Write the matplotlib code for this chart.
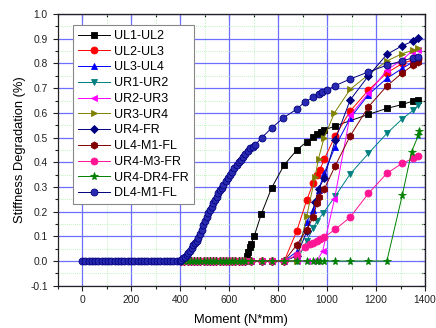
import matplotlib
matplotlib.use("Agg")
import matplotlib.pyplot as plt
from matplotlib.ticker import MultipleLocator

plt.rcParams['font.family'] = ['Liberation Sans', 'DejaVu Sans']

# ---------------- data ----------------
labels = ["UL1-UL2", "UL2-UL3", "UL3-UL4", "UR1-UR2", "UR2-UR3", "UR3-UR4",
          "UR4-FR", "UL4-M1-FL", "UR4-M3-FR", "UR4-DR4-FR", "DL4-M1-FL"]

# moments at which the curves still sit at zero stiffness degradation
zero_moment = [405, 418, 431, 444, 457, 470, 483, 496, 509, 522, 535, 548, 561,
               574, 587, 600, 613, 626, 639, 652, 665, 690, 733, 774, 825]

ul1_ul2_x = [672, 679, 686, 689, 703, 731, 774, 825, 876, 917, 944, 958, 974, 988,
             1033, 1169, 1244, 1307, 1352, 1373]
ul1_ul2_y = [0.02, 0.038, 0.058, 0.067, 0.102, 0.189, 0.297, 0.389, 0.449, 0.483,
             0.503, 0.513, 0.524, 0.530, 0.547, 0.594, 0.618, 0.634, 0.648, 0.654]

ul2_ul3_x = [876, 917, 944, 958, 971, 988, 1033, 1094, 1169, 1244, 1307, 1352, 1373]
ul2_ul3_y = [0.121, 0.247, 0.317, 0.35, 0.37, 0.412, 0.506, 0.607, 0.692, 0.762,
             0.800, 0.815, 0.820]

ul3_ul4_x = [876, 917, 944, 958, 965, 988, 1033, 1094, 1169, 1244, 1307, 1352, 1373]
ul3_ul4_y = [0.038, 0.159, 0.205, 0.247, 0.287, 0.355, 0.463, 0.578, 0.674, 0.740,
             0.780, 0.807, 0.814]

ur1_ur2_x = [876, 917, 944, 958, 985, 1033, 1094, 1169, 1244, 1305, 1352, 1373]
ur1_ur2_y = [0.0, 0.080, 0.135, 0.160, 0.195, 0.262, 0.352, 0.436, 0.517, 0.574,
             0.611, 0.632]

ur2_ur3_x = [876, 917, 944, 958, 982, 1030, 1094, 1169, 1244, 1305, 1345, 1373]
ur2_ur3_y = [0.0, 0.0, 0.0, 0.0, 0.040, 0.250, 0.590, 0.680, 0.773, 0.814, 0.848, 0.854]

ur3_ur4_x = [876, 917, 951, 965, 988, 1030, 1094, 1169, 1244, 1307, 1352, 1373]
ur3_ur4_y = [0.0, 0.182, 0.341, 0.415, 0.500, 0.600, 0.695, 0.755, 0.810, 0.840,
             0.854, 0.864]

ur4_fr_x = [876, 917, 951, 965, 988, 1033, 1094, 1169, 1244, 1307, 1352, 1373]
ur4_fr_y = [0.02, 0.12, 0.24, 0.29, 0.335, 0.490, 0.652, 0.750, 0.837, 0.872,
            0.891, 0.902]

ul4_m1_fl_x = [876, 917, 944, 958, 965, 988, 1033, 1094, 1169, 1244, 1307, 1352, 1373]
ul4_m1_fl_y = [0.065, 0.126, 0.180, 0.233, 0.260, 0.290, 0.385, 0.506, 0.625, 0.709,
               0.762, 0.794, 0.804]

ur4_m3_fr_x = [876, 910, 930, 944, 958, 971, 988, 1033, 1094, 1169, 1244, 1305, 1352, 1373]
ur4_m3_fr_y = [0.024, 0.058, 0.068, 0.074, 0.080, 0.088, 0.096, 0.128, 0.177, 0.274,
               0.355, 0.395, 0.416, 0.425]

ur4_dr4_fr_x = [876, 917, 944, 958, 971, 988, 1033, 1094, 1169, 1244, 1307, 1345,
                1373, 1377]
ur4_dr4_fr_y = [0.0, 0.0, 0.0, 0.0, 0.0, 0.0, 0.0, 0.0, 0.0, 0.0, 0.267, 0.443,
                0.510, 0.528]

dl4_m1_fl_x = [0, 13, 27, 40, 53, 67, 80, 93, 107, 120, 133, 147, 160, 173, 187, 200,
               213, 227, 240, 253, 267, 280, 293, 307, 320, 333, 347, 360, 373, 387,
               400, 405, 413, 420, 427, 434, 441, 447, 454, 461, 468, 475, 481, 488,
               495, 502, 509, 516, 522, 529, 536, 543, 549, 556, 563, 570, 577, 586,
               595, 604, 613, 622, 631, 640, 649, 658, 667, 676, 686, 696, 706, 733,
               774, 822, 876, 910, 944, 965, 978, 999, 1033, 1094, 1169, 1244, 1305,
               1352, 1373]
dl4_m1_fl_y = [0.0, 0.0, 0.0, 0.0, 0.0, 0.0, 0.0, 0.0, 0.0, 0.0, 0.0, 0.0, 0.0, 0.0,
               0.0, 0.0, 0.0, 0.0, 0.0, 0.0, 0.0, 0.0, 0.0, 0.0, 0.0, 0.0, 0.0, 0.0,
               0.0, 0.0, 0.0, 0.005, 0.011, 0.018, 0.024, 0.031, 0.042, 0.053, 0.065,
               0.074, 0.082, 0.092, 0.108, 0.127, 0.146, 0.162, 0.178, 0.193, 0.206,
               0.220, 0.233, 0.247, 0.261, 0.274, 0.286, 0.297, 0.308, 0.322, 0.335,
               0.348, 0.362, 0.376, 0.389, 0.400, 0.411, 0.422, 0.434, 0.445, 0.456,
               0.463, 0.470, 0.499, 0.539, 0.580, 0.615, 0.645, 0.663, 0.676, 0.683,
               0.692, 0.710, 0.737, 0.766, 0.793, 0.810, 0.823, 0.827]

series_x = [ul1_ul2_x, ul2_ul3_x, ul3_ul4_x, ur1_ur2_x, ur2_ur3_x, ur3_ur4_x,
            ur4_fr_x, ul4_m1_fl_x, ur4_m3_fr_x, ur4_dr4_fr_x, dl4_m1_fl_x]
series_y = [ul1_ul2_y, ul2_ul3_y, ul3_ul4_y, ur1_ur2_y, ur2_ur3_y, ur3_ur4_y,
            ur4_fr_y, ul4_m1_fl_y, ur4_m3_fr_y, ur4_dr4_fr_y, dl4_m1_fl_y]

colors = ["#000000", "#FF0000", "#0000FF", "#008080", "#FF00FF", "#808000",
          "#000080", "#800000", "#FF1493", "#008000", "#000080"]
facecolors = ["#000000", "#FF0000", "#0000FF", "#008080", "#FF00FF", "#808000",
              "#000080", "#800000", "#FF1493", "#008000", "#2a2ab0"]
markers = ["s", "o", "^", "v", "<", ">", "D", "h", "o", "*", "o"]
msizes = [4.8, 5.0, 5.0, 5.0, 5.0, 5.0, 4.3, 5.2, 5.0, 5.8, 5.0]

# ---------------- figure ----------------
fig = plt.figure(figsize=(4.36, 3.28), dpi=100)
ax = fig.add_axes([0.132, 0.129, 0.843, 0.828])

for i, (xs, ys) in enumerate(zip(series_x, series_y)):
    if i < len(series_x) - 1:
        zx = [m for m in zero_moment if m < xs[0]]
        xs = zx + list(xs)
        ys = [0.0] * len(zx) + list(ys)
    ax.plot(xs, ys, color=colors[i], marker=markers[i], markersize=msizes[i],
            linewidth=0.7, markeredgewidth=0.6, markeredgecolor=colors[i],
            markerfacecolor=facecolors[i], label=labels[i], zorder=3 + i)

ax.set_xlim(-100, 1400)
ax.set_ylim(-0.1, 1.0)
ax.xaxis.set_major_locator(MultipleLocator(200))
ax.xaxis.set_minor_locator(MultipleLocator(100))
ax.yaxis.set_major_locator(MultipleLocator(0.1))
ax.yaxis.set_minor_locator(MultipleLocator(0.05))
ax.set_yticks([-0.1, 0.0, 0.1, 0.2, 0.3, 0.4, 0.5, 0.6, 0.7, 0.8, 0.9, 1.0])
ax.set_yticklabels(["-0.1", "0.0", "0.1", "0.2", "0.3", "0.4", "0.5", "0.6", "0.7",
                    "0.8", "0.9", "1.0"])
ax.set_xticks([0, 200, 400, 600, 800, 1000, 1200, 1400])

ax.grid(True, which='major', color='#6f6fff', linewidth=0.9, linestyle='-', zorder=0)
ax.grid(True, which='minor', color='#a8eea8', linewidth=0.6, linestyle=(0, (1, 1.5)),
        zorder=0)
ax.set_axisbelow(True)

ax.tick_params(which='both', direction='out', top=False, right=False,
               labelsize=7.4, colors='#222222', width=0.8)
ax.tick_params(which='major', length=3.5)
ax.tick_params(which='minor', length=2)
sec_x = ax.secondary_xaxis('top')
sec_x.xaxis.set_major_locator(MultipleLocator(200))
sec_x.xaxis.set_minor_locator(MultipleLocator(100))
sec_x.tick_params(which='both', direction='in', labeltop=False, width=0.8)
sec_x.tick_params(which='major', length=3.5)
sec_x.tick_params(which='minor', length=2)
sec_y = ax.secondary_yaxis('right')
sec_y.yaxis.set_major_locator(MultipleLocator(0.1))
sec_y.yaxis.set_minor_locator(MultipleLocator(0.05))
sec_y.tick_params(which='both', direction='in', labelright=False, width=0.8)
sec_y.tick_params(which='major', length=3.5)
sec_y.tick_params(which='minor', length=2)
for sp in ax.spines.values():
    sp.set_linewidth(0.9)
    sp.set_color('#222222')

ax.set_xlabel("Moment (N*mm)", fontsize=9.3, labelpad=6)
ax.set_ylabel("Stiffness Degradation (%)", fontsize=9.3, labelpad=3)

leg = ax.legend(loc='upper left', bbox_to_anchor=(0.042, 0.96), borderaxespad=0,
                fontsize=9, frameon=True, fancybox=False, edgecolor='#888888',
                framealpha=1, handlelength=2.6, handletextpad=0.3,
                labelspacing=0.3, borderpad=0.4, markerscale=1.0)
leg.get_frame().set_linewidth(0.8)
leg.set_zorder(20)

fig.savefig("out.png", dpi=100)
